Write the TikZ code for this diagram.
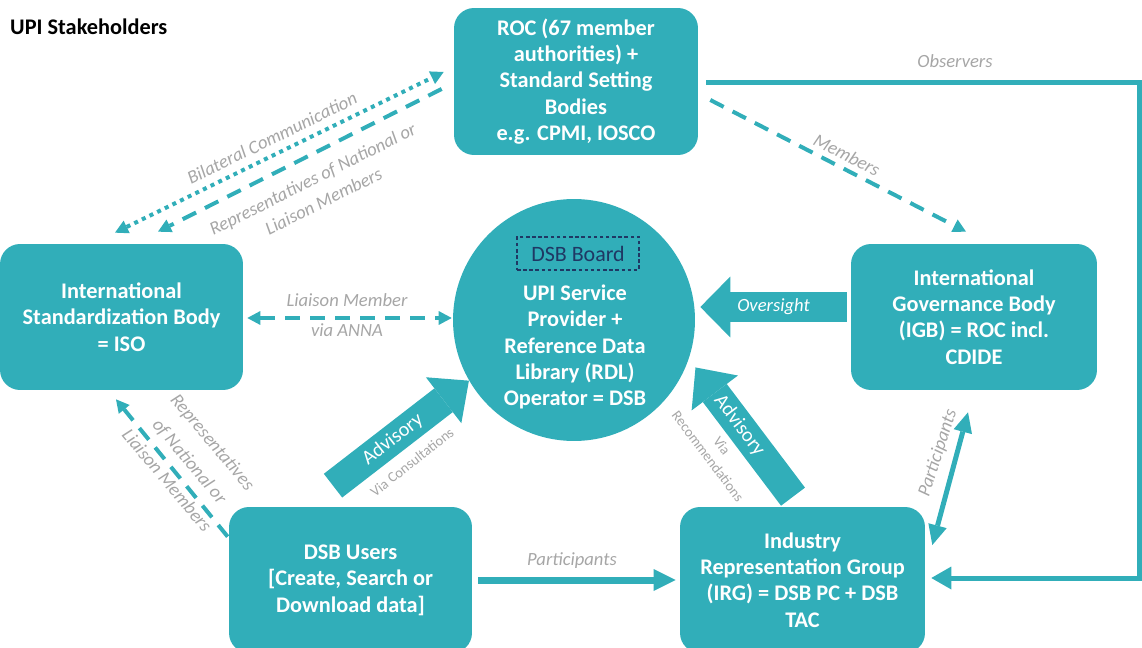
\documentclass[tikz,border=0pt]{standalone}
\usepackage{fontspec}
\setmainfont{Carlito}
\usetikzlibrary{arrows.meta,calc,positioning}

\definecolor{upiteal}{RGB}{49,174,185}
\definecolor{lblgrey}{RGB}{166,166,166}
\definecolor{boardblue}{RGB}{31,56,100}

\tikzset{
  party/.style={fill=upiteal, rounded corners=0.4cm, text=white, align=center,
    inner sep=0pt, font=\fontsize{12.7}{15}\selectfont\bfseries},
  lbl/.style={text=lblgrey, align=center, inner sep=1pt,
    font=\fontsize{10.6}{14}\selectfont\itshape},
  smalllbl/.style={text=lblgrey, align=center, inner sep=1pt,
    font=\fontsize{8.2}{10}\selectfont},
  onarrow/.style={text=white, inner sep=1pt, font=\fontsize{11.5}{13}\selectfont},
  dashlink/.style={upiteal, line width=0.08cm, dash pattern=on 0.3cm off 0.2cm,
    -{Triangle[length=0.26cm, width=0.28cm, line width=0pt]}},
  dashboth/.style={dashlink,
    {Triangle[length=0.26cm, width=0.28cm, line width=0pt]}-{Triangle[length=0.26cm, width=0.28cm, line width=0pt]}},
  dotlink/.style={upiteal, line width=0.08cm, dash pattern=on 0.08cm off 0.09cm,
    {Triangle[length=0.26cm, width=0.28cm, line width=0pt]}-{Triangle[length=0.26cm, width=0.28cm, line width=0pt]}},
  obslink/.style={upiteal, line width=0.1cm,
    -{Triangle[length=0.4cm, width=0.46cm, line width=0pt]}},
  partlink/.style={upiteal, line width=0.14cm,
    -{Triangle[length=0.44cm, width=0.44cm, line width=0pt]}},
  partboth/.style={upiteal, line width=0.1cm,
    {Triangle[length=0.4cm, width=0.38cm, line width=0pt]}-{Triangle[length=0.4cm, width=0.38cm, line width=0pt]}},
  blockarrow/.style={upiteal, line width=0.62cm,
    -{Triangle[length=0.6cm, width=1.22cm, line width=0pt]}},
  advarrow/.style={upiteal, line width=0.6cm,
    -{Triangle[length=0.64cm, width=1.16cm, line width=0pt]}}
}

\begin{document}
\begin{tikzpicture}[x=0.02cm, y=-0.02cm]
  \useasboundingbox (0,0) rectangle (1142,648);

  \node[anchor=west, font=\fontsize{12.7}{15}\selectfont\bfseries] (title) at (4,27) {UPI Stakeholders};

  % stakeholder boxes
  \node[party, minimum width=4.88cm, minimum height=2.94cm] (roc) at (576,81.5)
    {ROC (67 member\\authorities) +\\Standard Setting\\Bodies\\e.g. CPMI, IOSCO};
  \node[party, minimum width=4.86cm, minimum height=2.92cm] (iso) at (121.5,317)
    {International\\Standardization Body\\= ISO};
  \node[party, minimum width=4.92cm, minimum height=2.92cm] (igb) at (974,317)
    {International\\Governance Body\\(IGB) = ROC incl.\\CDIDE};
  \node[party, minimum width=4.86cm, minimum height=2.92cm] (users) at (350.5,580)
    {DSB Users\\{[}Create, Search or\\Download data{]}};
  \node[party, minimum width=4.9cm, minimum height=2.92cm] (irg) at (802.5,580)
    {Industry\\Representation Group\\(IRG) = DSB PC + DSB\\TAC};

  % the DSB in the middle
  \node[circle, fill=upiteal, minimum size=4.84cm, inner sep=0pt] (dsb) at (574,320) {};
  \node[draw=boardblue, line width=0.6pt, dash pattern=on 2pt off 1.5pt, text=boardblue,
    minimum width=2.44cm, minimum height=0.66cm, inner sep=0pt,
    font=\fontsize{12.5}{15}\selectfont] (board) at (578,253.5) {DSB Board};
  \node[text=white, align=center, inner sep=0pt,
    font=\fontsize{12.7}{15}\selectfont\bfseries] (svc) at (575,347)
    {UPI Service\\Provider +\\Reference Data\\Library (RDL)\\Operator = DSB};

  % ROC and ISO
  \draw[dotlink] ($(iso.north)+(-6.5,-11)$) -- ($(roc.west)+(-10,-9.5)$);
  \node[lbl, rotate=26.1] (bilbl) at (272,138) {Bilateral Communication};
  \draw[dashlink] ($(roc.west)+(-12,7.5)$) -- ($(iso.north)+(36.5,-12)$);
  \node[lbl, rotate=26.7] (reptop) at (318,190) {Representatives of National or\\Liaison Members};

  % ROC to IGB
  \draw[dashlink] ($(roc.east)+(12,18.5)$) -- ($(igb.north)+(-8,-12)$);
  \node[lbl, rotate=-27.3] (memlbl) at (847,155) {Members};

  \draw[obslink] ($(roc.east)+(8,1.5)$) -| ($(irg.east)+(214,-2)$) -- ($(irg.east)+(6,-2)$);
  \node[lbl] (obslbl) at (955,61) {Observers};

  % ISO and DSB
  \draw[dashboth] ($(iso.east)+(4,1)$) -- ($(dsb.west)+(-1,-2)$);
  \node[lbl] (liaison) at (347,300) {Liaison Member};
  \node[lbl] (anna) at (347,330) {via ANNA};

  % IGB oversees the DSB
  \draw[blockarrow] ($(igb.west)+(-4,-10)$) -- ($(dsb.east)+(5,-13)$)
    node[midway, onarrow, font=\fontsize{10.6}{13}\selectfont\itshape] {Oversight};

  % advisory arrows
  \draw[advarrow] ($(users.north)+(-17.5,-21)$) -- (dsb.210)
    node[pos=0.44, sloped, onarrow] {Advisory};
  \node[smalllbl, rotate=38] (consult) at (412,462) {Via Consultations};
  \draw[advarrow] ($(irg.north)+(-9.5,-10)$) -- ($(dsb.-22)+(9,2)$)
    node[pos=0.55, sloped, onarrow] {Advisory};
  \node[smalllbl, rotate=-53] (recomm) at (715,451) {Via\\Recommendations};

  % participants
  \draw[partboth] ($(igb.south)+(-6,22)$) -- ($(irg.east)+(7,-35)$);
  \node[lbl, rotate=72] (partigb) at (938,453) {Participants};
  \draw[partlink] ($(users.east)+(6,0)$) -- ($(irg.west)+(-4,0)$);
  \node[lbl] (partusr) at (572,561) {Participants};

  % DSB users to ISO
  \draw[dashlink] ($(users.north west)+(-1,30)$) -- ($(iso.south)+(-5.5,9)$);
  \node[lbl, rotate=-50, font=\fontsize{10.6}{17}\selectfont\itshape] (repbot) at (190,461)
    {Representatives\\of National or\\Liaison Members};
\end{tikzpicture}
\end{document}
